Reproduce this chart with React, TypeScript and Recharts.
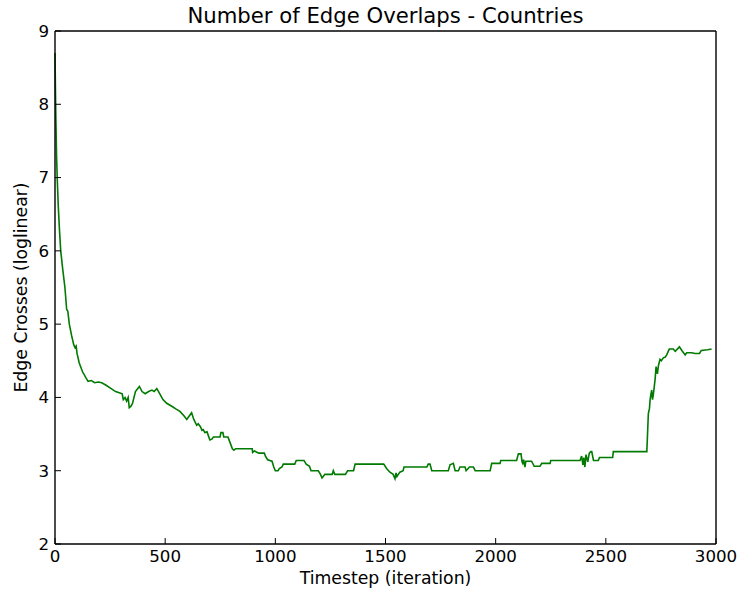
import React from "react";
import { Line, LineChart, XAxis, YAxis } from "recharts";

// values
const timesteps = [
    0, 2, 4, 7, 10, 15, 20, 26, 35, 45, 53, 58, 65, 75, 85, 91, 96, 100, 110, 125,
    140, 150, 165, 180, 197, 212, 230, 255, 275, 295, 305, 310, 318, 325, 332, 337, 345, 352, 365, 383,
    395, 409, 425, 440, 450, 462, 470, 490, 507, 530, 550, 567, 585, 598, 610, 620, 630, 643, 650, 660,
    667, 673, 680, 690, 703, 712, 719, 749, 753, 762, 766, 785, 795, 805, 812, 820, 895, 897, 905, 925,
    950, 955, 965, 985, 993, 1000, 1012, 1018, 1030, 1036, 1088, 1095, 1130, 1140, 1155, 1162, 1195, 1205, 1212, 1225,
    1258, 1263, 1270, 1318, 1328, 1355, 1362, 1492, 1505, 1520, 1535, 1543, 1548, 1552, 1565, 1580, 1584, 1688, 1694, 1702,
    1710, 1785, 1793, 1808, 1816, 1831, 1838, 1861, 1866, 1881, 1899, 1907, 1975, 1982, 2020, 2023, 2095, 2103, 2115, 2120,
    2123, 2127, 2133, 2137, 2163, 2175, 2201, 2209, 2247, 2250, 2383, 2390, 2396, 2400, 2405, 2410, 2418, 2425, 2432, 2436,
    2444, 2466, 2471, 2531, 2534, 2686, 2693, 2698, 2701, 2705, 2708, 2712, 2716, 2720, 2724, 2728, 2734, 2739, 2746, 2752,
    2761, 2770, 2776, 2788, 2806, 2815, 2834, 2845, 2860, 2867, 2890, 2905, 2925, 2933, 2962, 2980,
];

const edgeCrosses = [
    8.7, 8.2, 7.8, 7.3, 7.0, 6.6, 6.3, 6.0, 5.75, 5.5, 5.2, 5.18, 5.0, 4.85, 4.72, 4.68, 4.7, 4.6, 4.47, 4.35,
    4.27, 4.22, 4.23, 4.2, 4.21, 4.2, 4.17, 4.12, 4.08, 4.06, 4.05, 3.97, 4.0, 3.95, 4.0, 3.86, 3.88, 3.92, 4.08, 4.15,
    4.08, 4.05, 4.08, 4.1, 4.08, 4.12, 4.08, 3.97, 3.92, 3.88, 3.84, 3.81, 3.75, 3.7, 3.75, 3.79, 3.7, 3.62, 3.64, 3.6,
    3.55, 3.56, 3.52, 3.53, 3.42, 3.43, 3.46, 3.46, 3.52, 3.52, 3.46, 3.46, 3.38, 3.3, 3.28, 3.3, 3.3, 3.25, 3.27, 3.24,
    3.24, 3.2, 3.15, 3.13, 3.05, 3.0, 3.0, 3.03, 3.05, 3.09, 3.09, 3.14, 3.14, 3.09, 3.06, 3.0, 3.0, 2.95, 2.9, 2.95,
    2.95, 3.0, 2.95, 2.95, 3.0, 3.0, 3.09, 3.09, 3.03, 2.98, 2.95, 2.89, 2.97, 2.92, 2.98, 3.0, 3.05, 3.05, 3.09, 3.09,
    3.0, 3.0, 3.08, 3.1, 3.0, 3.0, 3.05, 3.05, 3.0, 3.05, 3.05, 3.0, 3.0, 3.1, 3.1, 3.14, 3.14, 3.23, 3.23, 3.12,
    3.1, 3.15, 3.05, 3.13, 3.13, 3.06, 3.06, 3.1, 3.1, 3.14, 3.14, 3.2, 3.08, 3.18, 3.05, 3.22, 3.12, 3.24, 3.26, 3.26,
    3.14, 3.14, 3.18, 3.18, 3.26, 3.26, 3.78, 3.85, 3.97, 4.05, 4.1, 3.97, 4.05, 4.15, 4.26, 4.42, 4.32, 4.44, 4.52, 4.5,
    4.54, 4.55, 4.58, 4.66, 4.66, 4.63, 4.69, 4.64, 4.58, 4.61, 4.61, 4.6, 4.6, 4.64, 4.65, 4.66,
];

const xTicks = [0, 500, 1000, 1500, 2000, 2500, 3000];
const yTicks = [2, 3, 4, 5, 6, 7, 8, 9];

const font = "'DejaVu Sans', sans-serif";
const tickStyle = { fill: "#000", fontSize: 16.67, fontFamily: font };
const axisLine = { stroke: "#000", strokeWidth: 1.4 };
const tickLine = { stroke: "#000", strokeWidth: 1 };

export default function App() {
    const data = timesteps.map((t, i) => ({ t, crosses: edgeCrosses[i] }));

    return (
        <div style={{ position: "absolute", left: 0, top: 0, width: 739, height: 590, background: "#fff" }}>
            <LineChart
                width={739}
                height={590}
                data={data}
                margin={{ top: 30, right: 22, bottom: 0, left: 0 }}
            >
                <XAxis
                    xAxisId="bottom"
                    dataKey="t"
                    type="number"
                    domain={[0, 3000]}
                    ticks={xTicks}
                    interval={0}
                    height={46}
                    axisLine={axisLine}
                    tickLine={tickLine}
                    tickSize={-6}
                    tickMargin={12}
                    tick={tickStyle}
                    label={{
                        value: "Timestep (iteration)",
                        position: "insideBottom",
                        offset: 6,
                        style: { fill: "#000", fontSize: 17.3, fontFamily: font },
                    }}
                />
                <XAxis
                    xAxisId="top"
                    orientation="top"
                    dataKey="t"
                    type="number"
                    domain={[0, 3000]}
                    ticks={xTicks}
                    interval={0}
                    height={1}
                    axisLine={axisLine}
                    tickLine={tickLine}
                    tickSize={-6}
                    tick={false}
                    label={{
                        value: "Number of Edge Overlaps - Countries",
                        position: "top",
                        offset: 7,
                        style: { fill: "#000", fontSize: 21.2, fontFamily: font },
                    }}
                />
                <YAxis
                    yAxisId="left"
                    type="number"
                    domain={[2, 9]}
                    ticks={yTicks}
                    interval={0}
                    width={55}
                    axisLine={axisLine}
                    tickLine={tickLine}
                    tickSize={-6}
                    tickMargin={12}
                    tick={tickStyle}
                    label={{
                        value: "Edge Crosses (loglinear)",
                        angle: -90,
                        position: "insideLeft",
                        offset: 21,
                        style: { fill: "#000", fontSize: 17.3, fontFamily: font, textAnchor: "middle" },
                    }}
                />
                <YAxis
                    yAxisId="right"
                    orientation="right"
                    type="number"
                    domain={[2, 9]}
                    ticks={yTicks}
                    interval={0}
                    width={1}
                    axisLine={axisLine}
                    tickLine={tickLine}
                    tickSize={-6}
                    tick={false}
                />
                <Line
                    xAxisId="bottom"
                    yAxisId="left"
                    type="linear"
                    dataKey="crosses"
                    stroke="#007a00"
                    strokeWidth={1.6}
                    dot={false}
                    isAnimationActive={false}
                />
            </LineChart>
        </div>
    );
}
